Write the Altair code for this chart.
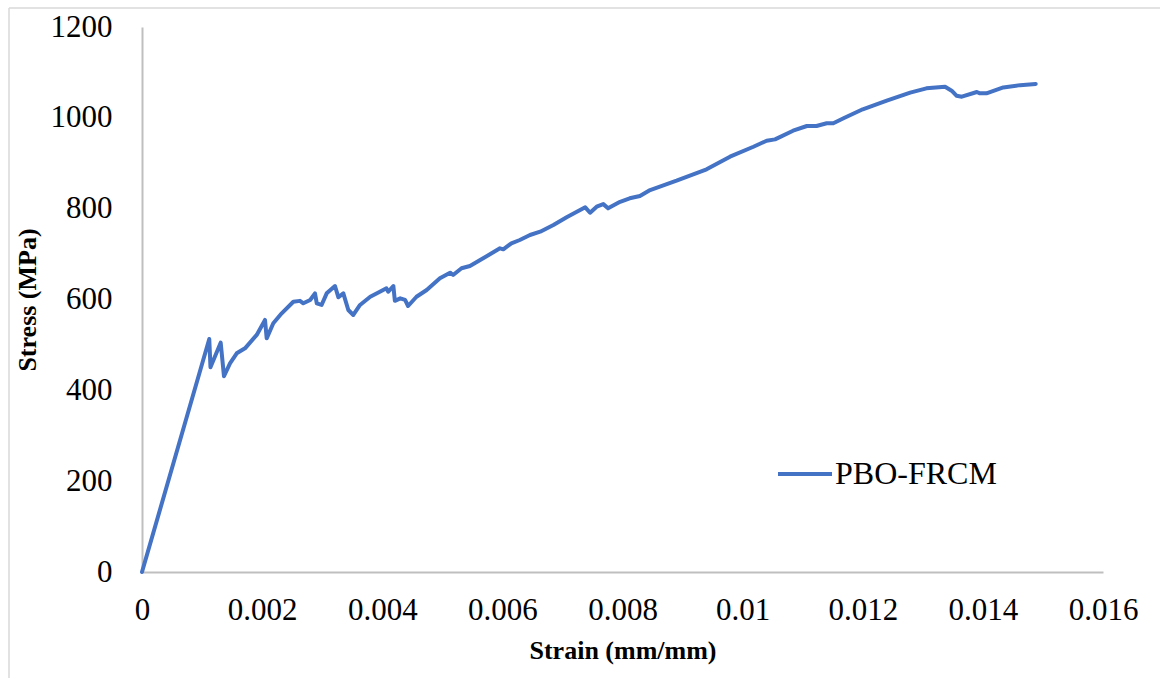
import altair as alt
import pandas as pd

strain = [
    0.0, 0.00112, 0.00114, 0.00131, 0.001365, 0.001465, 0.001577, 0.001715,
    0.00191, 0.002048, 0.002076, 0.002186, 0.002326, 0.00252, 0.00263,
    0.002686, 0.0028, 0.00288, 0.00291, 0.00299, 0.003075, 0.003213,
    0.00327, 0.003352, 0.003435, 0.003518, 0.00363, 0.0038, 0.00396,
    0.00407, 0.0041, 0.004185, 0.00421, 0.0043, 0.00438, 0.00443, 0.00457,
    0.00474, 0.00496, 0.00513, 0.00518, 0.00532, 0.00546, 0.00568, 0.00596,
    0.006015, 0.00615, 0.00629, 0.00646, 0.00663, 0.00685, 0.00707, 0.00724,
    0.00738, 0.00746, 0.00757, 0.00768, 0.00776, 0.00796, 0.00812, 0.00829,
    0.00846, 0.0089, 0.0094, 0.00979, 0.01018, 0.0104, 0.01054, 0.01084,
    0.01107, 0.01123, 0.0114, 0.01151, 0.01168, 0.012, 0.0124, 0.01279,
    0.01306, 0.01337, 0.01348, 0.01356, 0.01365, 0.0139, 0.01395, 0.01406,
    0.01434, 0.01462, 0.01488,
]
stress = [
    0.0, 513, 451, 505, 431, 459.5, 481.5, 492.5,
    522, 555, 514.5, 547.6, 569.6, 595, 597,
    591.6, 599, 613.6, 591.6, 588, 613.6, 629.7,
    604.8, 613.6, 576.9, 565.9, 588, 606, 617,
    624.6, 617, 629.7, 597, 602.6, 599, 585.7, 606,
    621, 646.7, 659, 654, 668.7, 673.7, 690.7, 712.7,
    710.5, 723.7, 731, 742, 749.3, 764, 781, 793,
    803, 791, 804.3, 810, 800.7, 815, 822.8, 828,
    841, 861.5, 886.6, 914.4, 936.4, 949.6, 952.6, 971.6,
    982, 982, 988, 988, 999, 1018.8, 1037.8, 1055.4,
    1065, 1068.6, 1059.8, 1048.7, 1046.5, 1056.9, 1054, 1054,
    1067, 1072, 1074.5,
]
series_name = "PBO-FRCM"
x_ticks = [0, 0.002, 0.004, 0.006, 0.008, 0.01, 0.012, 0.014, 0.016]
y_ticks = [0, 200, 400, 600, 800, 1000, 1200]

df = pd.DataFrame({
    "idx": list(range(len(strain))),
    "strain": strain,
    "stress": stress,
    "series": [series_name] * len(strain),
})

FONT = "Liberation Serif"
LINE_COLOR = "#4472C4"

line = alt.Chart(df).mark_line(
    strokeWidth=4, strokeJoin="round", strokeCap="round"
).encode(
    x=alt.X(
        "strain:Q",
        scale=alt.Scale(domain=[0, 0.016], nice=False, zero=True),
        axis=alt.Axis(
            values=x_ticks, format="~g", title="Strain (mm/mm)",
            grid=False, ticks=False, tickSize=0,
            labelFont=FONT, labelFontSize=31, labelColor="black",
            labelPadding=23, labelFlush=False,
            titleFont=FONT, titleFontSize=26, titleFontWeight="bold",
            titleColor="black", titlePadding=12,
            domainColor="#BFBFBF", domainWidth=2,
        ),
    ),
    y=alt.Y(
        "stress:Q",
        scale=alt.Scale(domain=[0, 1200], nice=False),
        axis=alt.Axis(
            values=y_ticks, format="d", title="Stress (MPa)",
            grid=False, ticks=False, tickSize=0,
            labelFont=FONT, labelFontSize=31, labelColor="black",
            labelPadding=30, labelFlush=False,
            titleFont=FONT, titleFontSize=26, titleFontWeight="bold",
            titleColor="black", titlePadding=10,
            domainColor="#BFBFBF", domainWidth=2,
        ),
    ),
    color=alt.Color(
        "series:N",
        scale=alt.Scale(domain=[series_name], range=[LINE_COLOR]),
        legend=alt.Legend(
            title=None, orient="none", legendX=634, legendY=418,
            symbolType="stroke", symbolSize=2916, symbolStrokeWidth=4,
            labelFont=FONT, labelFontSize=32, labelColor="black",
            labelOffset=1, labelLimit=0, padding=0,
        ),
    ),
    order="idx:Q",
)

frame_src = pd.DataFrame({"k": [0]})
left_border = alt.Chart(frame_src).mark_rule(color="#D9D9D9", strokeWidth=1.5).encode(
    x=alt.value(-133), y=alt.value(-19), y2=alt.value(700)
)
top_border = alt.Chart(frame_src).mark_rule(color="#D9D9D9", strokeWidth=1.5).encode(
    x=alt.value(-133), x2=alt.value(1100), y=alt.value(-19)
)

chart = alt.layer(left_border, top_border, line).properties(
    width=961,
    height=545,
    autosize=alt.AutoSizeParams(type="none"),
    padding={"left": 142, "top": 27, "right": 57, "bottom": 106},
    background="white",
).configure_view(stroke=None)

chart.save("out.html", embed_options={"renderer": "svg", "actions": False})
